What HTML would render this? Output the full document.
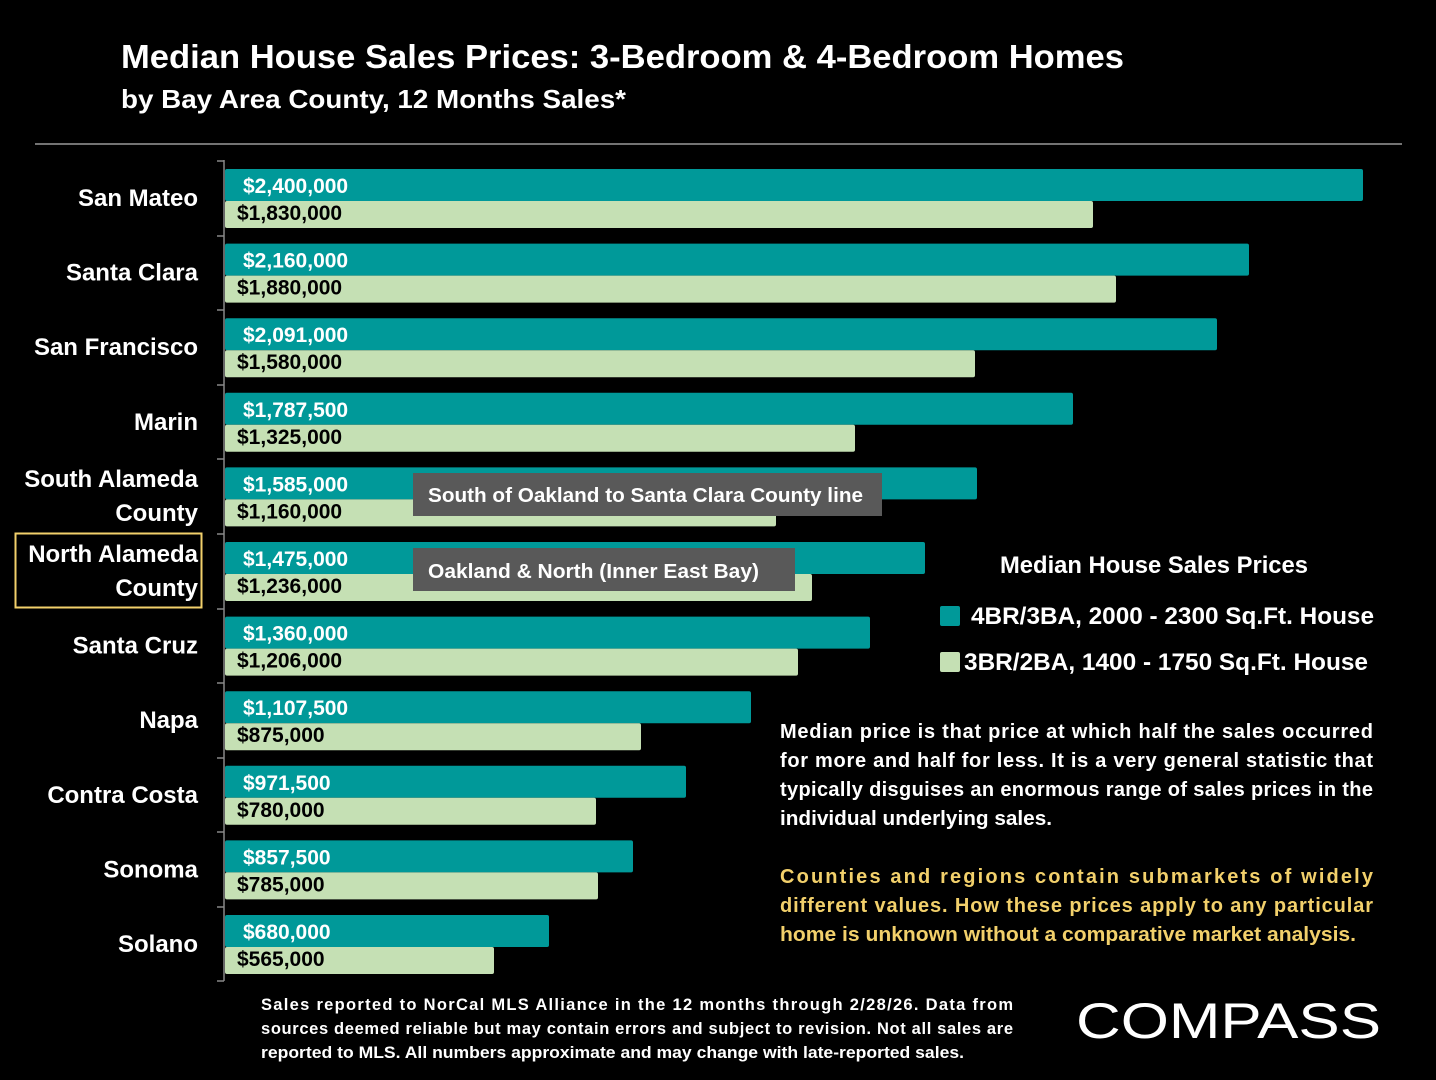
<!DOCTYPE html>
<html><head><meta charset="utf-8"><style>
html,body{margin:0;padding:0;background:#000;}
svg{display:block;}
text{font-family:"Liberation Sans",Arial,sans-serif;font-weight:bold;}
</style></head><body>
<svg width="1436" height="1080" viewBox="0 0 1436 1080" xmlns="http://www.w3.org/2000/svg">
<rect width="1436" height="1080" fill="#000"/>
<text x="121" y="68" fill="#fff" font-size="33" textLength="1003" lengthAdjust="spacingAndGlyphs">Median House Sales Prices: 3-Bedroom &amp; 4-Bedroom Homes</text>
<text x="121" y="108" fill="#fff" font-size="26" textLength="505" lengthAdjust="spacingAndGlyphs">by Bay Area County, 12 Months Sales*</text>
<line x1="35" y1="144" x2="1402" y2="144" stroke="#999" stroke-width="1.5"/>

<g id="bars">
<!-- axis -->
<line x1="224" y1="160" x2="224" y2="981" stroke="#888" stroke-width="1.5"/>
<g stroke="#888" stroke-width="1.5">
<line x1="217" y1="161" x2="224" y2="161"/><line x1="217" y1="236" x2="224" y2="236"/><line x1="217" y1="310" x2="224" y2="310"/><line x1="217" y1="385" x2="224" y2="385"/><line x1="217" y1="459" x2="224" y2="459"/><line x1="217" y1="534" x2="224" y2="534"/><line x1="217" y1="609" x2="224" y2="609"/><line x1="217" y1="683" x2="224" y2="683"/><line x1="217" y1="758" x2="224" y2="758"/><line x1="217" y1="832" x2="224" y2="832"/><line x1="217" y1="907" x2="224" y2="907"/><line x1="217" y1="981" x2="224" y2="981"/>
</g>
</g>
<g font-size="21">
<!-- rows -->
<rect x="225" y="169" width="1138" height="32" fill="#009999" rx="2"/><rect x="225" y="201" width="868" height="27" fill="#C5E0B4" rx="2"/>
<text x="243" y="193" fill="#fff">$2,400,000</text><text x="237" y="220" fill="#000">$1,830,000</text>
<text x="198" y="206" fill="#fff" text-anchor="end" font-size="24">San Mateo</text>

<rect x="225" y="243.6" width="1024" height="32" fill="#009999" rx="2"/><rect x="225" y="275.6" width="891" height="27" fill="#C5E0B4" rx="2"/>
<text x="243" y="267.6" fill="#fff">$2,160,000</text><text x="237" y="294.6" fill="#000">$1,880,000</text>
<text x="198" y="280.6" fill="#fff" text-anchor="end" font-size="24">Santa Clara</text>

<rect x="225" y="318.2" width="992" height="32" fill="#009999" rx="2"/><rect x="225" y="350.2" width="750" height="27" fill="#C5E0B4" rx="2"/>
<text x="243" y="342.2" fill="#fff">$2,091,000</text><text x="237" y="369.2" fill="#000">$1,580,000</text>
<text x="198" y="355.2" fill="#fff" text-anchor="end" font-size="24">San Francisco</text>

<rect x="225" y="392.8" width="848" height="32" fill="#009999" rx="2"/><rect x="225" y="424.8" width="630" height="27" fill="#C5E0B4" rx="2"/>
<text x="243" y="416.8" fill="#fff">$1,787,500</text><text x="237" y="443.8" fill="#000">$1,325,000</text>
<text x="198" y="429.8" fill="#fff" text-anchor="end" font-size="24">Marin</text>

<rect x="225" y="467.4" width="752" height="32" fill="#009999" rx="2"/><rect x="225" y="499.4" width="551" height="27" fill="#C5E0B4" rx="2"/>
<text x="243" y="491.4" fill="#fff">$1,585,000</text><text x="237" y="518.4" fill="#000">$1,160,000</text>
<text x="198" y="487" fill="#fff" text-anchor="end" font-size="24">South Alameda</text>
<text x="198" y="521" fill="#fff" text-anchor="end" font-size="24">County</text>

<rect x="225" y="542" width="700" height="32" fill="#009999" rx="2"/><rect x="225" y="574" width="587" height="27" fill="#C5E0B4" rx="2"/>
<text x="243" y="566" fill="#fff">$1,475,000</text><text x="237" y="593" fill="#000">$1,236,000</text>
<text x="198" y="562" fill="#fff" text-anchor="end" font-size="24">North Alameda</text>
<text x="198" y="596" fill="#fff" text-anchor="end" font-size="24">County</text>
<rect x="15.5" y="533.5" width="186" height="74" fill="none" stroke="#F2D06B" stroke-width="2"/>

<rect x="225" y="616.6" width="645" height="32" fill="#009999" rx="2"/><rect x="225" y="648.6" width="573" height="27" fill="#C5E0B4" rx="2"/>
<text x="243" y="640.6" fill="#fff">$1,360,000</text><text x="237" y="667.6" fill="#000">$1,206,000</text>
<text x="198" y="653.6" fill="#fff" text-anchor="end" font-size="24">Santa Cruz</text>

<rect x="225" y="691.2" width="526" height="32" fill="#009999" rx="2"/><rect x="225" y="723.2" width="416" height="27" fill="#C5E0B4" rx="2"/>
<text x="243" y="715.2" fill="#fff">$1,107,500</text><text x="237" y="742.2" fill="#000">$875,000</text>
<text x="198" y="728.2" fill="#fff" text-anchor="end" font-size="24">Napa</text>

<rect x="225" y="765.8" width="461" height="32" fill="#009999" rx="2"/><rect x="225" y="797.8" width="371" height="27" fill="#C5E0B4" rx="2"/>
<text x="243" y="789.8" fill="#fff">$971,500</text><text x="237" y="816.8" fill="#000">$780,000</text>
<text x="198" y="802.8" fill="#fff" text-anchor="end" font-size="24">Contra Costa</text>

<rect x="225" y="840.4" width="408" height="32" fill="#009999" rx="2"/><rect x="225" y="872.4" width="373" height="27" fill="#C5E0B4" rx="2"/>
<text x="243" y="864.4" fill="#fff">$857,500</text><text x="237" y="891.4" fill="#000">$785,000</text>
<text x="198" y="877.4" fill="#fff" text-anchor="end" font-size="24">Sonoma</text>

<rect x="225" y="915" width="324" height="32" fill="#009999" rx="2"/><rect x="225" y="947" width="269" height="27" fill="#C5E0B4" rx="2"/>
<text x="243" y="939" fill="#fff">$680,000</text><text x="237" y="966" fill="#000">$565,000</text>
<text x="198" y="952" fill="#fff" text-anchor="end" font-size="24">Solano</text>
</g>

<rect x="413" y="473" width="469" height="43" fill="#595959"/>
<text x="428" y="502" fill="#fff" font-size="20" textLength="435" lengthAdjust="spacingAndGlyphs">South of Oakland to Santa Clara County line</text>
<rect x="413" y="548" width="382" height="43" fill="#595959"/>
<text x="428" y="578" fill="#fff" font-size="20" textLength="331" lengthAdjust="spacingAndGlyphs">Oakland &amp; North (Inner East Bay)</text>

<text x="1154" y="573" fill="#fff" font-size="24" text-anchor="middle" textLength="308" lengthAdjust="spacingAndGlyphs">Median House Sales Prices</text>
<rect x="940" y="606" width="20" height="20" fill="#009999" rx="2"/>
<text x="971" y="624" fill="#fff" font-size="24" textLength="403" lengthAdjust="spacingAndGlyphs">4BR/3BA, 2000 - 2300 Sq.Ft. House</text>
<rect x="940" y="652" width="20" height="20" fill="#C5E0B4" rx="2"/>
<text x="964" y="670" fill="#fff" font-size="24" textLength="404" lengthAdjust="spacingAndGlyphs">3BR/2BA, 1400 - 1750 Sq.Ft. House</text>

<g font-size="20" fill="#fff">
<text x="780" y="738" textLength="593" lengthAdjust="spacing">Median price is that price at which half the sales occurred</text>
<text x="780" y="767" textLength="593" lengthAdjust="spacing">for more and half for less. It is a very general statistic that</text>
<text x="780" y="796" textLength="593" lengthAdjust="spacing">typically disguises an enormous range of sales prices in the</text>
<text x="780" y="825" textLength="272" lengthAdjust="spacingAndGlyphs">individual underlying sales.</text>
</g>
<g font-size="20" fill="#F2D06B">
<text x="780" y="883" textLength="593" lengthAdjust="spacing">Counties and regions contain submarkets of widely</text>
<text x="780" y="912" textLength="593" lengthAdjust="spacing">different values. How these prices apply to any particular</text>
<text x="780" y="941" textLength="576" lengthAdjust="spacingAndGlyphs">home is unknown without a comparative market analysis.</text>
</g>

<g font-size="16.5" fill="#fff">
<text x="261" y="1010" textLength="752" lengthAdjust="spacing">Sales reported to NorCal MLS Alliance in the 12 months through 2/28/26. Data from</text>
<text x="261" y="1034" textLength="752" lengthAdjust="spacing">sources deemed reliable but may contain errors and subject to revision. Not all sales are</text>
<text x="261" y="1058" textLength="703" lengthAdjust="spacingAndGlyphs">reported to MLS. All numbers approximate and may change with late-reported sales.</text>
</g>

<text x="1076" y="1038" fill="#fff" font-size="50" style="font-weight:normal" textLength="305" lengthAdjust="spacingAndGlyphs">COMPASS</text>
</svg>
</body></html>
